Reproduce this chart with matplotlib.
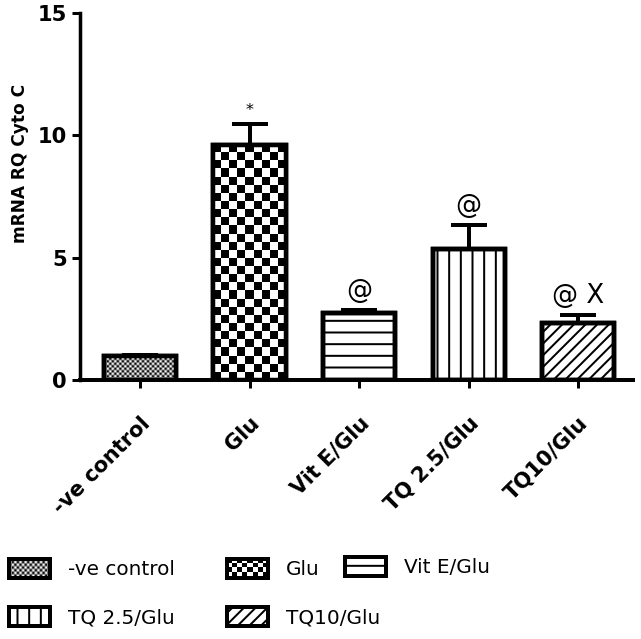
import matplotlib

matplotlib.use("Agg")
import matplotlib.pyplot as plt
import numpy as np
from matplotlib.image import BboxImage
from matplotlib.legend_handler import HandlerBase
from matplotlib.patches import Patch, Rectangle
from matplotlib.transforms import Bbox, TransformedBbox

groups = ["-ve control", "Glu", "Vit E/Glu", "TQ 2.5/Glu", "TQ10/Glu"]
means = [1.0, 9.62, 2.72, 5.37, 2.35]
sems = [0.04, 0.86, 0.16, 0.98, 0.29]
marks = ["", "*", "@", "@", "@ X"]
patterns = ["fine", "coarse", "-", "|", "//"]  # fine / coarse = checkerboards

DPI = 70
PX = 72 / DPI  # points per output pixel
cells = {"fine": 2.5, "coarse": 8}  # checker cell size in the bars, pixels
legend_cells = {"fine": 2.5, "coarse": 5}  # same, in the legend icons
plt.rcParams["hatch.linewidth"] = 2 * PX


def checker(rows, cols):
    r, c = np.indices((rows, cols))
    return ((r + c) % 2).astype(float)


class CheckerHandler(HandlerBase):
    def __init__(self, cell):
        super().__init__()
        self.cell = cell

    def create_artists(self, legend, orig_handle, xdescent, ydescent,
                       width, height, fontsize, trans):
        box = Bbox.from_bounds(-xdescent, -ydescent, width, height)
        img = BboxImage(TransformedBbox(box, trans), cmap="gray",
                        interpolation="antialiased")
        nc = max(1, round(width / PX / self.cell))
        nr = max(1, round(height / PX / self.cell))
        img.set_data(checker(nr, nc))
        rect = Rectangle((-xdescent, -ydescent), width, height,
                         facecolor="none", edgecolor="black",
                         linewidth=orig_handle.get_linewidth(), transform=trans)
        return [img, rect]


fig = plt.figure(figsize=(641 / DPI, 639 / DPI), dpi=DPI)
ax = fig.add_axes([80 / 641, 1 - 380 / 639, 553 / 641, 367 / 639])

x = np.arange(len(groups))
xlim = (-0.548, 4.5)
ylim = (0, 15)
ax.set_xlim(*xlim)
ax.set_ylim(*ylim)

bars = ax.bar(x, means, width=0.66, color="white", edgecolor="black",
              linewidth=4.5 * PX, zorder=2)
for b, p in zip(bars, patterns):
    if p in cells:
        x0, w, h = b.get_x(), b.get_width(), b.get_height()
        (px0, py0), (px1, py1) = ax.transData.transform([(x0, 0), (x0 + w, h)])
        nc = max(1, round((px1 - px0) / cells[p]))
        nr = max(1, round((py1 - py0) / cells[p]))
        im = ax.imshow(checker(nr, nc), cmap="gray", extent=(x0, x0 + w, 0, h),
                       origin="lower", aspect="auto",
                       interpolation="antialiased", zorder=2.5)
        im.set_clip_path(b)
    else:
        b.set_hatch(p)

# outlines on top of the checker images
ax.bar(x, means, width=0.66, fill=False, edgecolor="black",
       linewidth=4.5 * PX, zorder=3)

ax.errorbar(x, means, yerr=[np.zeros(len(x)), sems], fmt="none",
            ecolor="black", elinewidth=4 * PX, capsize=18 * PX,
            capthick=4 * PX, zorder=4)

for xi, m, s, mk in zip(x, means, sems, marks):
    if not mk:
        continue
    if mk == "*":
        ax.annotate(mk, (xi, m + s), xytext=(0, 13 * PX),
                    textcoords="offset points", ha="center", va="center",
                    fontsize=16 * PX)
    else:
        ax.annotate(mk, (xi, m + s), xytext=(0, 19 * PX),
                    textcoords="offset points", ha="center", va="center",
                    fontsize=26 * PX)

ax.set_xlim(*xlim)
ax.set_ylim(*ylim)

for s in ("top", "right"):
    ax.spines[s].set_visible(False)
ax.spines["left"].set_linewidth(3.5 * PX)
ax.spines["bottom"].set_linewidth(4 * PX)
ax.tick_params(width=3 * PX, length=8 * PX)
ax.tick_params(axis="y", pad=5 * PX, labelsize=21 * PX)
ax.tick_params(axis="x", pad=25 * PX, labelsize=21 * PX)
ax.set_yticks([0, 5, 10, 15])
ax.set_xticks(x, groups)
for lab in ax.get_yticklabels() + ax.get_xticklabels():
    lab.set_fontweight("bold")
plt.setp(ax.get_xticklabels(), rotation=45, ha="right", va="top",
         rotation_mode="anchor")

ax.set_ylabel("mRNA RQ Cyto C", fontsize=17 * PX, fontweight="bold",
              va="center")
ax.yaxis.set_label_coords((20 - 80) / 553, (380 - 163) / 367)

# legend: one small legend per entry, laid out like the original
legend_pos = [(9, 569), (227, 569), (345, 567), (9, 617), (227, 617)]
for (lx, cy), g, p in zip(legend_pos, groups, patterns):
    if p in legend_cells:
        h = Patch(facecolor="white", edgecolor="black", linewidth=4 * PX)
        hmap = {h: CheckerHandler(legend_cells[p])}
    else:
        h = Patch(facecolor="white", edgecolor="black", linewidth=4 * PX,
                  hatch=p)
        hmap = None
    fig.legend(handles=[h], labels=[g], loc="center left",
               bbox_to_anchor=(lx / 641, 1 - cy / 639), frameon=False,
               borderpad=0, borderaxespad=0, handlelength=41 / 20,
               handleheight=21 / 20, handletextpad=0.9, fontsize=20 * PX,
               handler_map=hmap)

fig.savefig("out.png", dpi=DPI)
